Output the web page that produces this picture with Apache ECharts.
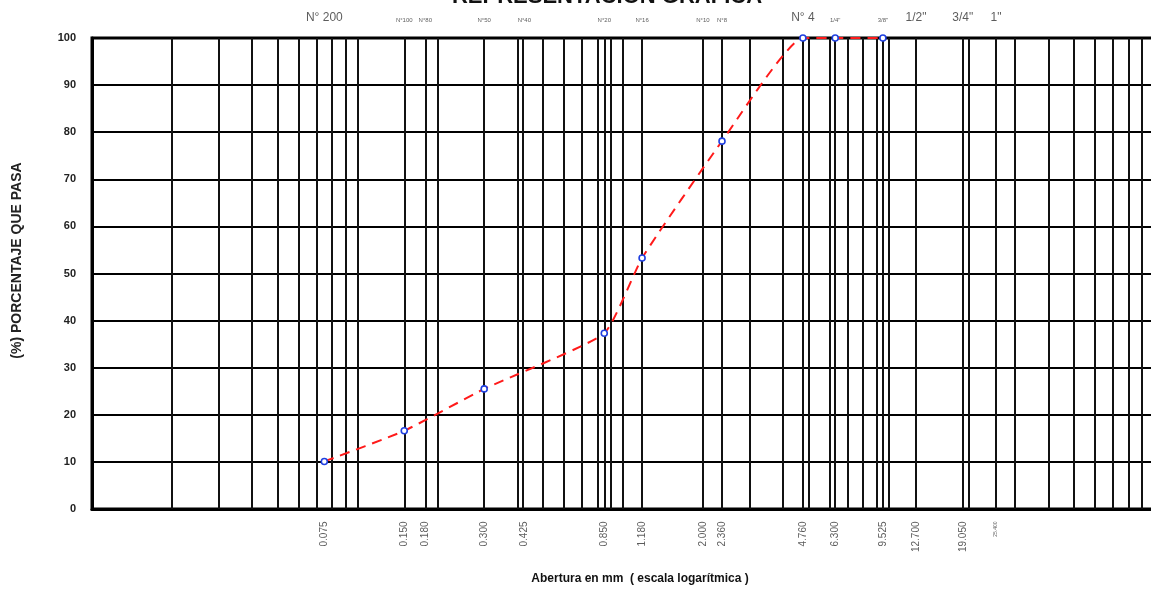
<!DOCTYPE html>
<html><head><meta charset="utf-8">
<script src="https://cdn.jsdelivr.net/npm/echarts@6/dist/echarts.min.js"></script>
<style>html,body{margin:0;padding:0;background:#fff}#c{width:1151px;height:589px}</style>
</head><body><div id="c"></div>
<script>
// ---- data ----
const sieveSizes = [0.075, 0.15, 0.18, 0.3, 0.425, 0.85, 1.18, 2.0, 2.36, 4.76, 6.3, 9.525, 12.7, 19.05, 25.4];
const sieveSizeLabels = ['0.075', '0.150', '0.180', '0.300', '0.425', '0.850', '1.180', '2.000', '2.360', '4.760', '6.300', '9.525', '12.700', '19.050', '25.400'];
const sieveNames = ['N° 200', 'N°100', 'N°80', 'N°50', 'N°40', 'N°20', 'N°16', 'N°10', 'N°8', 'N° 4', '1/4"', '3/8"', '1/2"', '3/4"', '1"'];
const logGridLines = [0.02, 0.03, 0.04, 0.05, 0.06, 0.07, 0.08, 0.09,
  0.1, 0.2, 0.3, 0.4, 0.5, 0.6, 0.7, 0.8, 0.9,
  1, 2, 3, 4, 5, 6, 7, 8, 9,
  10, 20, 30, 40, 50, 60, 70, 80, 90];
const gradX = [0.075, 0.15, 0.3, 0.85, 1.18, 2.36, 4.76, 6.3, 9.525];
const gradY = [10.1, 16.6, 25.5, 37.3, 53.3, 78.1, 100, 100, 100];
const yTicks = [0, 10, 20, 30, 40, 50, 60, 70, 80, 90, 100];

// ---- chart ----
const bigNames = new Set(['N° 200', 'N° 4', '1/2"', '3/4"', '1"']);
const chart = echarts.init(document.getElementById('c'), null, {renderer: 'canvas'});
const gridLineData = logGridLines.concat(sieveSizes).map(v => ({xAxis: v}));

chart.setOption({
  animation: false,
  backgroundColor: '#fff',
  title: {
    text: 'REPRESENTACION GRAFICA',
    left: 602, top: -19, textAlign: 'center',
    textStyle: {fontFamily: 'Liberation Sans', fontWeight: 'bold', fontSize: 22, color: '#111'}
  },
  grid: {left: 92, top: 38, width: 1062, height: 471, outerBoundsMode: 'none', containLabel: false,
    show: true, borderColor: '#000', borderWidth: 3, backgroundColor: 'transparent'},
  xAxis: {
    type: 'log', logBase: 10, min: 0.01, max: 100,
    axisLine: {show: true, lineStyle: {color: '#000', width: 3}},
    axisTick: {show: false}, axisLabel: {show: false}, splitLine: {show: false},
    name: 'Abertura en mm  ( escala logarítmica )',
    nameLocation: 'middle', nameGap: 64,
    nameTextStyle: {fontFamily: 'Liberation Sans', fontWeight: 'bold', fontSize: 12, color: '#111', padding: [0, 0, 0, 34]}
  },
  yAxis: {
    type: 'value', min: yTicks[0], max: yTicks[yTicks.length - 1], interval: 10,
    axisLine: {show: true, lineStyle: {color: '#000', width: 3}},
    axisTick: {show: false},
    axisLabel: {margin: 16, fontFamily: 'Liberation Sans', fontWeight: 'bold', fontSize: 11, color: '#222'},
    splitLine: {show: true, lineStyle: {color: '#000', width: 2}},
    name: '(%) PORCENTAJE QUE PASA',
    nameLocation: 'middle', nameGap: 68, nameRotate: 90,
    nameTextStyle: {fontFamily: 'Liberation Sans', fontWeight: 'bold', fontSize: 14, color: '#222', padding: [0, 0, 0, 26]}
  },
  series: [
    {
      type: 'scatter', name: 'bottomLabels', z: 1,
      data: sieveSizes.map((v, i) => ({
        value: [v, 0],
        label: {fontSize: sieveSizeLabels[i] === '25.400' ? 5 : 10}
      })),
      symbolSize: 1, itemStyle: {color: 'transparent'}, silent: true, clip: false,
      label: {
        show: true, position: 'bottom', distance: 12, rotate: 90,
        align: 'right', verticalAlign: 'middle',
        fontFamily: 'Liberation Sans', color: '#333',
        formatter: p => sieveSizeLabels[p.dataIndex]
      },
      markLine: {
        silent: true, symbol: 'none', animation: false,
        label: {show: false},
        lineStyle: {color: '#111', width: 2, type: 'solid'},
        data: gridLineData
      }
    },
    {
      type: 'scatter', name: 'topLabels', z: 1,
      data: sieveSizes.map((v, i) => ({
        value: [v, 100],
        label: {fontSize: bigNames.has(sieveNames[i]) ? 12 : 6}
      })),
      symbolSize: 1, itemStyle: {color: 'transparent'}, silent: true, clip: false,
      label: {
        show: true, position: 'top', distance: 14,
        fontFamily: 'Liberation Sans', color: '#333',
        formatter: p => sieveNames[p.dataIndex]
      }
    },
    {
      type: 'line', name: 'Granulometria', z: 5,
      data: gradX.map((x, i) => [x, gradY[i]]),
      smooth: 0.15, clip: false,
      lineStyle: {color: '#ff1a1a', width: 2, type: [10, 7]},
      symbol: 'circle', symbolSize: 6,
      itemStyle: {color: '#fff', borderColor: '#2040e0', borderWidth: 1.6}
    }
  ]
});
</script>
</body></html>
